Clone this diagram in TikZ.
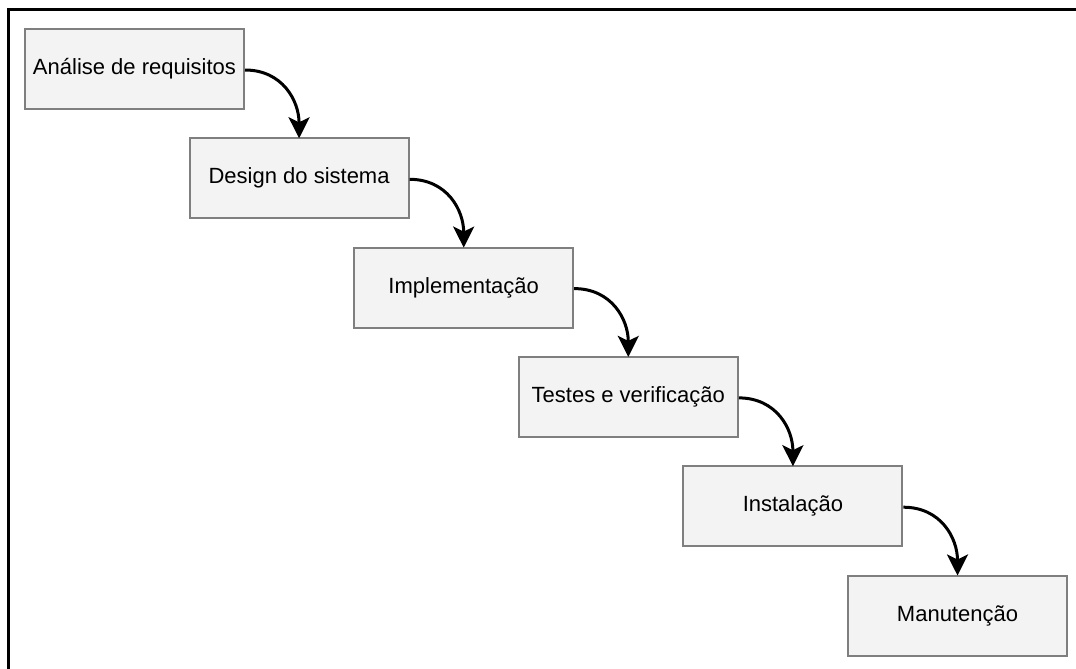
\documentclass[tikz,border=0pt]{standalone}
\usepackage{fontspec}
\setmainfont{Liberation Sans}
\usetikzlibrary{arrows.meta}
\definecolor{boxfill}{HTML}{F3F3F3}
\definecolor{boxline}{HTML}{7F7F7F}
\tikzset{
  phase/.style={draw=boxline, line width=2pt, fill=boxfill,
    minimum width=219pt, minimum height=80pt, inner sep=0pt,
    font=\fontsize{22}{26}\selectfont, text=black},
  flow/.style={line width=3pt, black,
    -{Stealth[length=21pt,width=21pt,inset=5pt]}},
}
\begin{document}
\begin{tikzpicture}[x=1pt, y=-1pt]
  \useasboundingbox (0,0) rectangle (1076,669);
  % outer frame: only the left and top edges fall inside the page
  \draw[line width=3pt, black] (8,669) -- (8,10) -- (1076,10);

  % phases of the process
  \node[phase] (p1) at (134.5, 69.0) {Análise de requisitos};
  \node[phase] (p2) at (299.1,178.3) {Design do sistema};
  \node[phase] (p3) at (463.7,287.6) {Implementação};
  \node[phase] (p4) at (628.3,396.9) {Testes e verificação};
  \node[phase] (p5) at (792.9,506.2) {Instalação};
  \node[phase] (p6) at (957.5,615.5) {Manutenção};

  % connectors between consecutive phases
  \foreach \a/\b in {p1/p2,p2/p3,p3/p4,p4/p5,p5/p6}
    \draw[flow] ([yshift=-1pt]\a.east) to[out=0,in=90,looseness=1.1] ([yshift=-1pt]\b.north);
\end{tikzpicture}
\end{document}
